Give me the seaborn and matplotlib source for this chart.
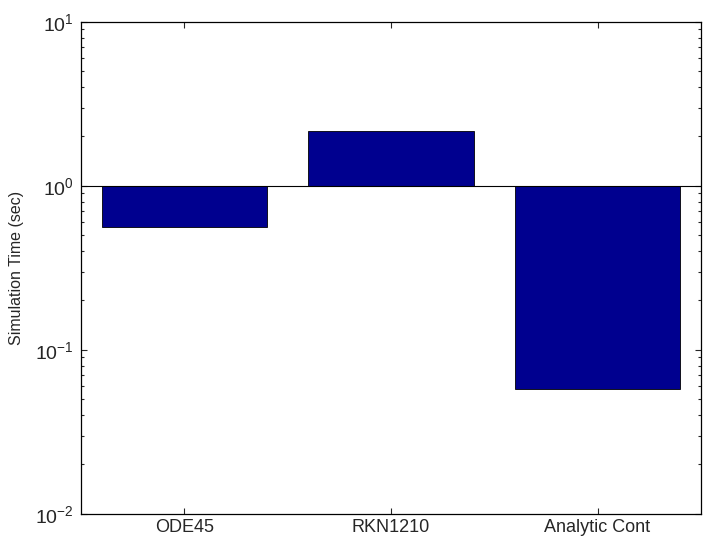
import numpy as np
import pandas as pd
import matplotlib
matplotlib.use("Agg")
import matplotlib.pyplot as plt
import seaborn as sns
from matplotlib.ticker import LogLocator, NullFormatter

methods = ["ODE45", "RKN1210", "Analytic Cont"]
sim_time = [0.56, 2.16, 0.058]

sns.set_style("ticks")
plt.rcParams["font.family"] = ["Liberation Sans", "DejaVu Sans"]
plt.rcParams["mathtext.default"] = "regular"
plt.rcParams["axes.unicode_minus"] = False

df = pd.DataFrame({"method": methods, "time": sim_time})

fig = plt.figure(figsize=(7.03, 5.46), dpi=100)
ax = fig.add_axes([0.115, 0.059, 0.882, 0.901])
ax.set_yscale("log")

sns.barplot(data=df, x="method", y="time", color="#00008F", saturation=1,
            width=0.8, edgecolor="black", linewidth=0.6, ax=ax)

# bars grow from the baseline at 1, MATLAB style
for p in ax.patches:
    h = p.get_y() + p.get_height()
    p.set_y(1)
    p.set_height(h - 1)

ax.axhline(1, color="black", lw=0.8)
ax.set_ylim(1e-2, 1e1)
ax.set_xlim(-0.5, 2.5)
ax.yaxis.set_major_locator(LogLocator(base=10, numticks=10))
ax.yaxis.set_minor_locator(LogLocator(base=10, subs=np.arange(2, 10), numticks=10))
ax.yaxis.set_minor_formatter(NullFormatter())

ax.set_xlabel("")
ax.set_ylabel("Simulation Time (sec)", fontsize=11.5, labelpad=8)
ax.tick_params(which="both", direction="in", top=True, right=True)
ax.tick_params(axis="x", labelsize=13)
ax.tick_params(axis="y", labelsize=14, pad=5)
ax.tick_params(which="major", length=4, width=0.8)
ax.tick_params(which="minor", length=2, width=0.8)
for s in ax.spines.values():
    s.set_linewidth(0.9)
    s.set_color("black")

fig.savefig("out.png", dpi=100)
